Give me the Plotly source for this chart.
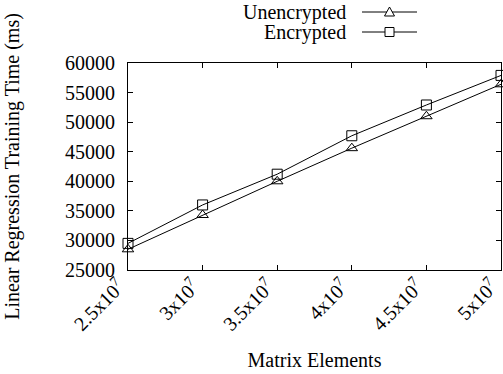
import plotly.graph_objects as go

x_vals = [2.5e7, 3e7, 3.5e7, 4e7, 4.5e7, 5e7]
x_ticktext = ["2.5x10<sup>7</sup>", "3x10<sup>7</sup>", "3.5x10<sup>7</sup>",
              "4x10<sup>7</sup>", "4.5x10<sup>7</sup>", "5x10<sup>7</sup>"]
unencrypted = [28500, 34300, 40000, 45600, 51000, 56400]
encrypted = [29500, 36000, 41200, 47700, 52900, 57900]
y_ticks = [25000, 30000, 35000, 40000, 45000, 50000, 55000, 60000]
y_ticktext = [str(v) for v in y_ticks]

FONT = "Liberation Serif"
W, H = 503, 374
L, R, T, B = 128, 2, 63, 104
pw, ph = W - L - R, H - T - B

def px(xp):
    return (xp - L) / pw

def py(yp):
    return 1 - (yp - T) / ph

fig = go.Figure()
fig.add_trace(go.Scatter(x=x_vals, y=unencrypted, mode="lines+markers",
                         line=dict(color="black", width=1),
                         marker=dict(symbol="triangle-up-open", size=10, color="black",
                                     line=dict(width=1)),
                         cliponaxis=False, showlegend=False, name="Unencrypted"))
fig.add_trace(go.Scatter(x=x_vals, y=encrypted, mode="lines+markers",
                         line=dict(color="black", width=1),
                         marker=dict(symbol="square-open", size=10, color="black",
                                     line=dict(width=1)),
                         cliponaxis=False, showlegend=False, name="Encrypted"))

# custom legend (text right-aligned, sample to the right)
legend_rows = [("Unencrypted", "tri", 12), ("Encrypted", "sq", 32)]
cx = 389.5
for label, sym, yp in legend_rows:
    fig.add_annotation(x=px(348), y=py(yp), xref="paper", yref="paper", text=label,
                       showarrow=False, xanchor="right", yanchor="middle",
                       font=dict(family=FONT, size=20, color="black"))
    fig.add_shape(type="line", xref="paper", yref="paper", x0=px(362), x1=px(417),
                  y0=py(yp), y1=py(yp), line=dict(color="black", width=1))
    if sym == "sq":
        fig.add_shape(type="rect", xref="paper", yref="paper",
                      x0=px(cx - 4.5), x1=px(cx + 4.5), y0=py(yp - 4.5), y1=py(yp + 4.5),
                      line=dict(color="black", width=1), fillcolor="white")
    else:
        path = "M {} {} L {} {} L {} {} Z".format(px(cx - 5), py(yp + 4), px(cx + 5), py(yp + 4),
                                                  px(cx), py(yp - 5))
        fig.add_shape(type="path", xref="paper", yref="paper", path=path,
                      line=dict(color="black", width=1), fillcolor="white")

fig.update_layout(
    width=W, height=H,
    margin=dict(l=L, r=R, t=T, b=B, autoexpand=False),
    paper_bgcolor="white", plot_bgcolor="white",
    font=dict(family=FONT, size=20, color="black"),
    showlegend=False,
    xaxis=dict(range=[2.5e7, 5e7], tickvals=x_vals, ticktext=x_ticktext, tickangle=-45,
               ticks="inside", ticklen=5, tickcolor="black", showline=True, linecolor="black",
               linewidth=1, mirror="ticks", showgrid=False, zeroline=False, automargin=False,
               ticklabeloverflow="allow", ticklabelshift=-9, ticklabelstandoff=-4,
               title=dict(text="Matrix Elements", font=dict(size=20), standoff=19),
               tickfont=dict(size=20)),
    yaxis=dict(range=[25000, 60000], tickvals=y_ticks, ticktext=y_ticktext,
               ticks="inside", ticklen=5,
               tickcolor="black", showline=True, linecolor="black", linewidth=1,
               mirror="ticks", showgrid=False, zeroline=False, automargin=False,
               ticklabeloverflow="allow",
               title=dict(text="Linear Regression Training Time (ms)", font=dict(size=20),
                          standoff=40),
               tickfont=dict(size=20), ticklabelstandoff=8),
)

fig.write_html("out.html", config={"displayModeBar": False},
               post_script="document.body.style.margin='0px';document.body.style.overflow='hidden';")
